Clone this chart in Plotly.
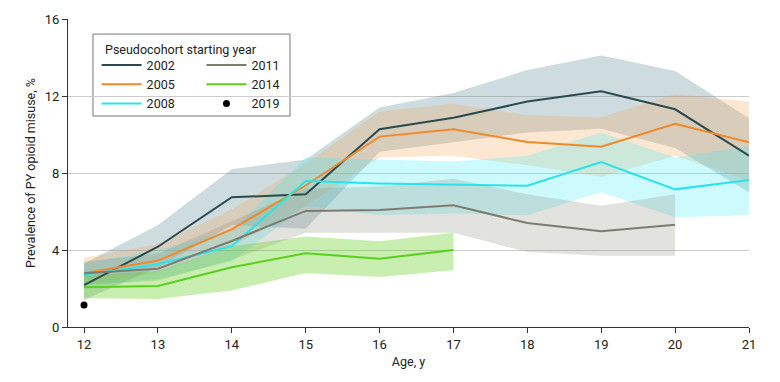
import plotly.graph_objects as go

ages = [12, 13, 14, 15, 16, 17, 18, 19, 20, 21]

p2002 = [2.18, 4.17, 6.74, 6.89, 10.27, 10.87, 11.71, 12.24, 11.31, 8.90]
lo2002 = [1.4, 3.1, 5.3, 5.1, 9.1, 9.6, 10.1, 10.3, 9.3, 7.0]
hi2002 = [3.3, 5.3, 8.2, 8.7, 11.4, 12.15, 13.35, 14.1, 13.3, 10.85]

p2005 = [2.79, 3.45, 5.07, 7.35, 9.89, 10.27, 9.61, 9.37, 10.56, 9.59]
lo2005 = [2.2, 2.8, 4.2, 6.3, 8.8, 8.9, 8.4, 7.8, 8.9, 7.6]
hi2005 = [3.6, 4.3, 6.1, 8.5, 11.2, 11.6, 11.0, 10.9, 12.1, 11.7]

p2008 = [2.72, 3.26, 4.20, 7.58, 7.46, 7.41, 7.34, 8.57, 7.15, 7.64]
lo2008 = [2.1, 2.5, 3.4, 6.3, 5.8, 5.9, 5.8, 7.0, 5.7, 5.8]
hi2008 = [3.3, 4.0, 5.0, 8.8, 8.7, 8.6, 8.9, 10.1, 8.8, 9.4]

p2011 = [2.79, 3.03, 4.47, 6.03, 6.08, 6.32, 5.40, 4.97, 5.31]
lo2011 = [2.2, 2.4, 3.5, 4.9, 4.9, 4.9, 3.9, 3.7, 3.7]
hi2011 = [3.4, 3.8, 5.5, 7.2, 7.3, 7.7, 6.9, 6.3, 6.9]

p2014 = [2.06, 2.13, 3.10, 3.83, 3.55, 4.00]
lo2014 = [1.5, 1.45, 1.9, 2.8, 2.6, 2.95]
hi2014 = [2.7, 2.9, 4.2, 4.7, 4.45, 4.9]

age2019 = [12]
p2019 = [1.14]

series = [
    ("2002", p2002, lo2002, hi2002, "#2B4A50", "rgba(95,140,148,0.30)", "legend", 1),
    ("2005", p2005, lo2005, hi2005, "#F0892B", "rgba(245,160,80,0.25)", "legend", 2),
    ("2008", p2008, lo2008, hi2008, "#2BE3E8", "rgba(55,235,245,0.25)", "legend", 3),
    ("2011", p2011, lo2011, hi2011, "#7D7C6F", "rgba(140,140,125,0.25)", "legend2", 1),
    ("2014", p2014, lo2014, hi2014, "#5ACF1E", "rgba(100,210,30,0.35)", "legend2", 2),
]

FONT = "Roboto, sans-serif"

fig = go.Figure()

for name, p, lo, hi, lc, bc, lg, rk in series:
    xs = ages[:len(p)]
    fig.add_trace(go.Scatter(
        x=xs + xs[::-1], y=hi + lo[::-1], fill="toself", fillcolor=bc,
        line=dict(width=0), mode="lines", hoverinfo="skip", showlegend=False))

for name, p, lo, hi, lc, bc, lg, rk in series:
    xs = ages[:len(p)]
    fig.add_trace(go.Scatter(
        x=xs, y=p, mode="lines", name=name, line=dict(color=lc, width=2),
        legend=lg, legendrank=rk))

fig.add_trace(go.Scatter(
    x=age2019, y=p2019, mode="markers", name="2019",
    marker=dict(color="black", size=7), legend="legend2", legendrank=3))

# legend frame (white box covering grid, gray border)
fig.add_shape(type="rect", xref="paper", yref="paper",
              x0=0.0367, x1=0.326, y0=0.685, y1=0.951,
              line=dict(color="#777", width=1), fillcolor="white",
              layer="between")

fig.add_annotation(text="Pseudocohort starting year", xref="paper", yref="paper",
                   x=0.0514, y=0.900, xanchor="left", yanchor="middle",
                   showarrow=False, font=dict(size=12.5, color="#222"))

fig.update_layout(
    width=772, height=374,
    margin=dict(l=60, r=31, t=11, b=55, autoexpand=False),
    paper_bgcolor="white", plot_bgcolor="white",
    font=dict(family=FONT, size=13, color="#222"),
    legend=dict(
        x=0.042, y=0.898, xanchor="left", yanchor="top",
        bgcolor="rgba(0,0,0,0)", borderwidth=0,
        font=dict(size=12.5), tracegroupgap=0, itemwidth=40),
    legend2=dict(
        x=0.196, y=0.898, xanchor="left", yanchor="top",
        bgcolor="rgba(0,0,0,0)", borderwidth=0,
        font=dict(size=12.5), tracegroupgap=0, itemwidth=40),
    xaxis=dict(
        range=[11.783, 21], tickmode="array", tickvals=ages,
        showgrid=False, zeroline=False, showline=True, linecolor="#333",
        ticks="outside", ticklen=5, tickcolor="#333", automargin=False,
        tickfont=dict(size=13),
        title=dict(text="Age, y", standoff=6, font=dict(size=12.5))),
    yaxis=dict(
        range=[0, 16], tickmode="array", tickvals=[0, 4, 8, 12, 16],
        showgrid=True, gridcolor="#cccccc", zeroline=False,
        showline=True, linecolor="#333", automargin=False,
        ticks="outside", ticklen=5, tickcolor="#333",
        tickfont=dict(size=13),
        title=dict(text="Prevalence of PY opioid misuse, %", standoff=6,
                   font=dict(size=12.5))),
)

fig.write_html("out.html")
